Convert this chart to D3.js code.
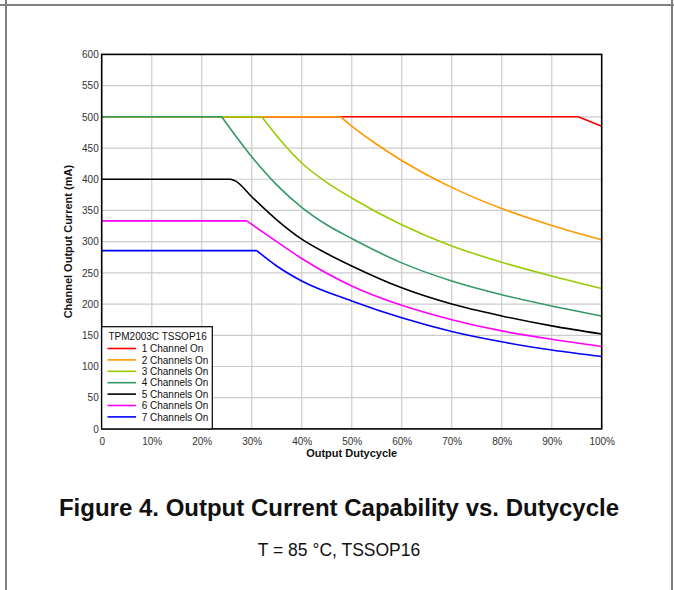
<!DOCTYPE html>
<html><head><meta charset="utf-8">
<script src="https://cdn.jsdelivr.net/npm/d3@7"></script>
<style>
html,body{margin:0;padding:0;background:#fff;}
svg{display:block;font-family:"Liberation Sans",Arial,sans-serif;}
</style></head>
<body>
<svg id="chart" width="674" height="590"></svg>
<script>
// ---- data ----
const legendTitle = "TPM2003C TSSOP16";
const seriesNames = ["1 Channel On","2 Channels On","3 Channels On","4 Channels On","5 Channels On","6 Channels On","7 Channels On"];
const seriesColors = ["#ff0000","#ff9900","#99cc00","#339966","#000000","#ff00ff","#0000ff"];
// duty (%) , current (mA)
const ch1Duty = [0, 95.3, 100];
const ch1Curr = [500, 500, 485];
const ch2Duty = [0, 47.8, 50, 55, 60, 70, 80, 90, 100];
const ch2Curr = [500, 500, 485, 456, 430, 387, 353, 326, 303];
const ch3Duty = [0, 32, 36, 40, 45, 50, 60, 70, 80, 90, 100];
const ch3Curr = [500, 500, 460, 426, 395, 370, 327, 293, 267, 245, 225];
const ch4Duty = [0, 24, 30, 35, 40, 45, 50, 60, 70, 80, 90, 100];
const ch4Curr = [500, 500, 436, 391, 355, 327, 305, 266, 237, 215, 197, 181];
const ch5Duty = [0, 25.8, 26.8, 30, 35, 40, 45, 50, 60, 70, 80, 90, 100];
const ch5Curr = [400, 400, 397, 372, 335, 304, 281, 261, 226, 200, 181, 165, 152];
const ch6Duty = [0, 29, 35, 40, 50, 60, 70, 80, 90, 100];
const ch6Curr = [333.3, 333.3, 300, 273, 229, 198, 175, 157, 143.5, 132];
const ch7Duty = [0, 31, 35, 40, 50, 60, 70, 80, 90, 100];
const ch7Curr = [285.7, 285.7, 261, 237, 205, 178, 156, 139.5, 126.5, 116];
const kneeIndex = [1, 1, 1, 1, 1, 1, 1];

const xTicks = [0,10,20,30,40,50,60,70,80,90,100];
const xTickLabels = ["0","10%","20%","30%","40%","50%","60%","70%","80%","90%","100%"];
const yTicks = [0,50,100,150,200,250,300,350,400,450,500,550,600];
const xTitle = "Output Dutycycle";
const yTitle = "Channel Output Current (mA)";
const caption = "Figure 4. Output Current Capability vs. Dutycycle";
const subCaption = "T = 85 °C, TSSOP16";

const allDuty = [ch1Duty,ch2Duty,ch3Duty,ch4Duty,ch5Duty,ch6Duty,ch7Duty];
const allCurr = [ch1Curr,ch2Curr,ch3Curr,ch4Curr,ch5Curr,ch6Curr,ch7Curr];

// ---- layout ----
const svg = d3.select("#chart");
const W = 674, H = 590;
const L = 101.7, R = 601.7, T = 54.4, B = 428.9;

// frame (document table cell border)
svg.append("line").attr("x1",0).attr("x2",W).attr("y1",5).attr("y2",5).attr("stroke","#808080").attr("stroke-width",2);
svg.append("line").attr("x1",6).attr("x2",6).attr("y1",0).attr("y2",H).attr("stroke","#808080").attr("stroke-width",2);
svg.append("line").attr("x1",672).attr("x2",672).attr("y1",0).attr("y2",H).attr("stroke","#808080").attr("stroke-width",2);

const x = d3.scaleLinear().domain([0,100]).range([L,R]);
const y = d3.scaleLinear().domain([0,600]).range([B,T]);

// grid
const g = svg.append("g");
g.selectAll("line.vg").data(xTicks.slice(1,-1)).join("line")
  .attr("x1",d=>x(d)).attr("x2",d=>x(d)).attr("y1",T).attr("y2",B)
  .attr("stroke","#d6d6d6").attr("stroke-width",1.5);
g.selectAll("line.hg").data(yTicks.slice(1,-1)).join("line")
  .attr("x1",L).attr("x2",R).attr("y1",d=>y(d)).attr("y2",d=>y(d))
  .attr("stroke","#cccccc").attr("stroke-width",1.2);

// axes labels via d3 axes
const xAxis = d3.axisBottom(x).tickValues(xTicks).tickFormat((d,i)=>xTickLabels[i]).tickSize(0).tickPadding(9);
const yAxis = d3.axisLeft(y).tickValues(yTicks).tickSize(0).tickPadding(3);
const gx = svg.append("g").attr("transform",`translate(0,${B})`).call(xAxis);
const gy = svg.append("g").attr("transform",`translate(${L},0)`).call(yAxis);
[gx,gy].forEach(a=>{
  a.select(".domain").remove();
  a.selectAll("text").attr("font-size",10).attr("fill","#333").attr("font-family","Liberation Sans, Arial, sans-serif");
});

// series
const lin = d3.line().x(d=>x(d[0])).y(d=>y(d[1]));
const smooth = d3.line().x(d=>x(d[0])).y(d=>y(d[1])).curve(d3.curveMonotoneX);
svg.append("clipPath").attr("id","pc").append("rect").attr("x",L).attr("y",T).attr("width",R-L).attr("height",B-T);
const sg = svg.append("g").attr("clip-path","url(#pc)");
allDuty.forEach((du,i)=>{
  const pts = du.map((d,j)=>[d, allCurr[i][j]]);
  const k = kneeIndex[i];
  const tail = pts.slice(k);
  const path = lin(pts.slice(0,k+1)) + (tail.length > 2 ? smooth(tail) : lin(tail));
  sg.append("path").attr("d",path).attr("fill","none")
    .attr("stroke",seriesColors[i]).attr("stroke-width",1.6).attr("stroke-linejoin","round");
});

// plot border
svg.append("rect").attr("x",L).attr("y",T).attr("width",R-L).attr("height",B-T)
  .attr("fill","none").attr("stroke","#000").attr("stroke-width",1.6);

// axis titles
svg.append("text").attr("x",(L+R)/2).attr("y",456.5).attr("text-anchor","middle")
  .attr("font-size",11).attr("font-weight","bold").attr("fill","#111").text(xTitle);
svg.append("text").attr("transform",`translate(72,${(T+B)/2}) rotate(-90)`).attr("text-anchor","middle")
  .attr("font-size",11).attr("font-weight","bold").attr("fill","#111").text(yTitle);

// legend
const lg = svg.append("g");
lg.append("rect").attr("x",L).attr("y",326.7).attr("width",110.6).attr("height",B-326.7)
  .attr("fill","#fff").attr("stroke","#000").attr("stroke-width",1.2);
lg.append("text").attr("x",108.5).attr("y",339.5).attr("font-size",10).attr("fill","#111").text(legendTitle);
seriesNames.forEach((n,i)=>{
  const cy = 348.5 + i*11.4;
  lg.append("line").attr("x1",107.5).attr("x2",136).attr("y1",cy).attr("y2",cy)
    .attr("stroke",seriesColors[i]).attr("stroke-width",1.6);
  lg.append("text").attr("x",141.7).attr("y",cy+3.6).attr("font-size",10).attr("fill","#111").text(n);
});

// captions
svg.append("text").attr("x",339).attr("y",515.5).attr("text-anchor","middle")
  .attr("font-size",24).attr("font-weight","bold").attr("fill","#111").text(caption);
svg.append("text").attr("x",339).attr("y",555.5).attr("text-anchor","middle")
  .attr("font-size",17.5).attr("fill","#111").text(subCaption);
</script>
</body></html>
